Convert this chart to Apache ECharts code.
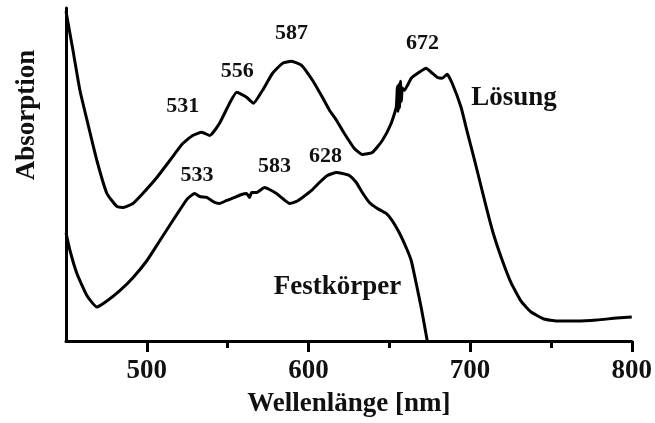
<!DOCTYPE html>
<html>
<head>
<meta charset="utf-8">
<script src="https://cdn.jsdelivr.net/npm/echarts@6/dist/echarts.min.js"></script>
<style>
  html, body { margin: 0; padding: 0; background: #fff; }
  #chart { width: 655px; height: 423px; }
</style>
</head>
<body>
<div id="chart"></div>
<script>
// Absorption spectra: solution (Lösung) vs. solid state (Festkörper)
const loesungNm = [450, 454.3, 458.6, 463, 469.1, 475.3, 481.5, 485.2, 491.4, 497.5,
  506.2, 514.2, 522.2, 528.4, 534, 538.9, 545, 551.2, 555.6, 561.7,
  566, 571.6, 577.8, 584, 589.5, 595.7, 602.5, 608.6, 613, 617.3,
  622.2, 628.4, 633.3, 639.5, 645.7, 651.2, 654.3, 655, 655.4, 655.9,
  656.3, 656.9, 657.5, 658, 659.3, 663.6, 668.5, 672.8, 675.9, 679.6,
  682.7, 685.8, 688.9, 694.4, 698.1, 702.5, 706.8, 710.5, 714.2, 719.1,
  725.3, 731.5, 737.7, 745.7, 753.7, 766, 778.4, 790.7, 800];
const loesungAbs = [0.99, 0.873, 0.753, 0.663, 0.542, 0.443, 0.404, 0.401, 0.413, 0.443,
  0.491, 0.542, 0.593, 0.617, 0.627, 0.617, 0.654, 0.714, 0.747, 0.732,
  0.714, 0.753, 0.804, 0.834, 0.840, 0.828, 0.783, 0.732, 0.693, 0.663,
  0.623, 0.578, 0.560, 0.566, 0.602, 0.654, 0.702, 0.765, 0.69, 0.77,
  0.70, 0.78, 0.72, 0.76, 0.753, 0.789, 0.807, 0.819, 0.807, 0.792,
  0.789, 0.801, 0.774, 0.702, 0.630, 0.548, 0.464, 0.392, 0.325, 0.253,
  0.175, 0.120, 0.087, 0.066, 0.060, 0.060, 0.063, 0.069, 0.072];

const festNm = [450, 452.5, 456.8, 463, 469.1, 475.3, 483.3, 491.4, 500, 508,
  516, 522.2, 525.3, 529.6, 532.7, 537, 542, 545, 549.4, 554.3,
  558.6, 561.7, 563.6, 564.8, 567.9, 572.8, 575.9, 580.2, 584, 588.3,
  592.6, 596.3, 601.9, 606.8, 611.7, 617.3, 621, 625.3, 629.6, 633.3,
  637.7, 642.6, 648.1, 651.9, 656.2, 660.5, 663.6, 666.7, 669.8, 673.5];
const festAbs = [0.325, 0.271, 0.202, 0.136, 0.102, 0.120, 0.151, 0.190, 0.241, 0.301,
  0.361, 0.407, 0.428, 0.443, 0.434, 0.431, 0.416, 0.413, 0.422, 0.431,
  0.440, 0.443, 0.431, 0.446, 0.446, 0.461, 0.455, 0.443, 0.428, 0.413,
  0.419, 0.431, 0.452, 0.476, 0.497, 0.506, 0.503, 0.497, 0.476, 0.446,
  0.416, 0.398, 0.383, 0.361, 0.325, 0.280, 0.241, 0.172, 0.099, 0];

const xTickLabels = [500, 600, 700, 800];
const xMinorTicks = [550, 650, 750];
const loesungPeaks = ['531', '556', '587', '672'];
const festPeaks = ['533', '583', '628'];
const curveNames = ['Lösung', 'Festkörper'];
const xAxisTitle = 'Wellenlänge [nm]';
const yAxisTitle = 'Absorption';

const FONT = '"Liberation Serif", "Times New Roman", serif';

function pairs(xs, ys) { return xs.map((x, i) => [x, ys[i]]); }

// annotation anchors (data coordinates) for the peak labels and curve names
const loesungPeakAt = [[522.2, 0.705], [556, 0.810], [589.5, 0.923], [670.6, 0.895]];
const festPeakAt = [[531, 0.499], [579, 0.524], [610.6, 0.554]];
const loesungNameAt = [727.2, 0.729];
const festNameAt = [618, 0.163];

function textMark(text, at, size) {
  return {
    coord: at, value: text, symbol: 'circle', symbolSize: 0,
    label: { show: true, position: 'inside', formatter: text,
      fontFamily: FONT, fontWeight: 'bold', fontSize: size, color: '#111' }
  };
}
function peakMarks(texts, at) { return texts.map((t, i) => textMark(t, at[i], 22)); }

const chart = echarts.init(document.getElementById('chart'), null, { renderer: 'canvas' });

const axisBase = { type: 'value', min: 450, max: 800, splitLine: { show: false } };
const curveStyle = { color: '#000', width: 3, join: 'round' };

chart.setOption({
  animation: false,
  backgroundColor: '#fff',
  grid: { left: 66, right: 22, top: 8, bottom: 82 },
  xAxis: [
    Object.assign({}, axisBase, {
      name: xAxisTitle, nameLocation: 'middle', nameGap: 50,
      nameTextStyle: { fontFamily: FONT, fontWeight: 'bold', fontSize: 27, color: '#111' },
      axisLine: { show: true, lineStyle: { color: '#000', width: 3 } },
      axisTick: { show: true, length: 11, customValues: xTickLabels,
        lineStyle: { color: '#000', width: 3 } },
      axisLabel: { show: true, customValues: xTickLabels, margin: 17,
        fontFamily: FONT, fontWeight: 'bold', fontSize: 27, color: '#111' }
    }),
    Object.assign({}, axisBase, {
      position: 'bottom',
      axisLine: { show: false },
      axisTick: { show: true, length: 7, customValues: xMinorTicks,
        lineStyle: { color: '#000', width: 3 } },
      axisLabel: { show: false }
    })
  ],
  yAxis: {
    type: 'value', min: 0, max: 1,
    axisLine: { show: true, lineStyle: { color: '#000', width: 3 } },
    axisTick: { show: false },
    axisLabel: { show: false },
    splitLine: { show: false }
  },
  graphic: [
    { type: 'text', x: 27, y: 115, rotation: Math.PI / 2,
      style: { text: yAxisTitle, fontFamily: FONT, fontWeight: 'bold', fontSize: 27,
        fill: '#111', align: 'center', verticalAlign: 'middle' } }
  ],
  series: [
    {
      name: curveNames[0], type: 'line', data: pairs(loesungNm, loesungAbs),
      showSymbol: false, smooth: 0.15,
      lineStyle: curveStyle,
      markPoint: { silent: true,
        data: peakMarks(loesungPeaks, loesungPeakAt).concat([textMark(curveNames[0], loesungNameAt, 27)]) }
    },
    {
      name: curveNames[1], type: 'line', data: pairs(festNm, festAbs),
      showSymbol: false, smooth: 0.15,
      lineStyle: curveStyle,
      markPoint: { silent: true,
        data: peakMarks(festPeaks, festPeakAt).concat([textMark(curveNames[1], festNameAt, 27)]) }
    }
  ]
});
</script>
</body>
</html>
